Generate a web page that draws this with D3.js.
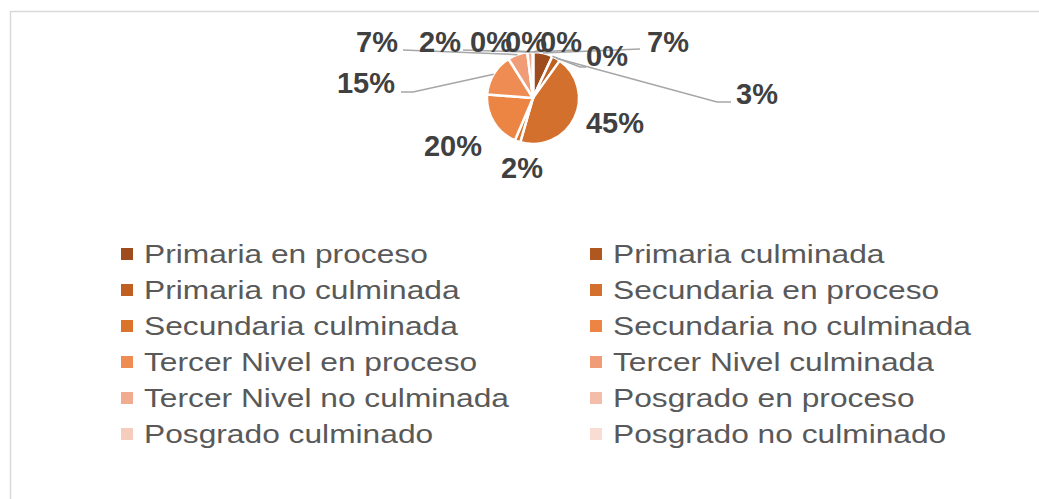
<!DOCTYPE html>
<html>
<head>
<meta charset="utf-8">
<script src="https://cdn.jsdelivr.net/npm/d3@7"></script>
<style>
  html, body { margin: 0; padding: 0; background: #fff; }
  svg { display: block; }
</style>
</head>
<body>
<svg id="chart" width="1039" height="499"></svg>
<script>
// ---- data ----
const categories = [
  "Primaria en proceso", "Primaria culminada", "Primaria no culminada",
  "Secundaria en proceso", "Secundaria culminada", "Secundaria no culminada",
  "Tercer Nivel en proceso", "Tercer Nivel culminada", "Tercer Nivel no culminada",
  "Posgrado en proceso", "Posgrado culminado", "Posgrado no culminado"
];
const values = [7, 0, 3, 45, 2, 20, 15, 7, 2, 0, 0, 0];
const valueLabels = ["7%", "0%", "3%", "45%", "2%", "20%", "15%", "7%", "2%", "0%", "0%", "0%"];
const colors = [
  "#9E4B1D", "#B0561F", "#C05F22", "#D4702D", "#DA742D", "#EC8443",
  "#EE8C54", "#EF9C77", "#F1AB91", "#F4BDAA", "#F6CCBE", "#F9DCD3"
];

// ---- layout (label positions / leader elbows, in px) ----
const cx = 533, cy = 98, R = 46;
const labelLayout = [
  { x: 668, y: 52, line: [[640, 49]] },
  { x: 607, y: 66, line: [[580, 67], [586, 67]] },
  { x: 757, y: 104, line: [[717, 102], [731, 102]] },
  { x: 615, y: 133, line: null },
  { x: 522, y: 178, line: null },
  { x: 453, y: 156, line: null },
  { x: 366, y: 93, line: [[413, 92], [401, 92]] },
  { x: 377, y: 52, line: [[403, 50]] },
  { x: 440, y: 52, line: [[463, 50]] },
  { x: 491, y: 52, line: [[505, 50]] },
  { x: 526, y: 52, line: [[540, 50]] },
  { x: 561, y: 52, line: [[575, 50]] }
];

const svg = d3.select("#chart");

// chart border (extends beyond the window on right and bottom)
svg.append("rect")
  .attr("x", 10.5).attr("y", 11.5)
  .attr("width", 1100).attr("height", 600)
  .attr("fill", "none").attr("stroke", "#D9D9D9").attr("stroke-width", 1.5);

const data = categories.map((c, i) => ({ name: c, value: values[i], label: valueLabels[i], color: colors[i], layout: labelLayout[i] }));

const pie = d3.pie().value(d => d.value).sort(null);
const arcs = pie(data);
const arc = d3.arc().innerRadius(0).outerRadius(R);

const g = svg.append("g").attr("transform", `translate(${cx},${cy})`);

g.selectAll("path.slice")
  .data(arcs)
  .join("path")
  .attr("class", "slice")
  .attr("d", arc)
  .attr("fill", d => d.data.color)
  .attr("stroke", "#fff")
  .attr("stroke-width", 2.5)
  .attr("stroke-linejoin", "round");

// leader lines
const lineGen = d3.line();
arcs.forEach(a => {
  const L = a.data.layout;
  if (!L.line) return;
  const mid = (a.startAngle + a.endAngle) / 2;
  const p0 = [cx + R * Math.sin(mid), cy - R * Math.cos(mid)];
  const pts = [p0].concat(L.line);
  svg.append("path")
    .attr("d", lineGen(pts))
    .attr("fill", "none")
    .attr("stroke", "#A6A6A6")
    .attr("stroke-width", 1.5);
});

// data labels
svg.selectAll("text.lbl")
  .data(arcs)
  .join("text")
  .attr("class", "lbl")
  .attr("x", d => d.data.layout.x)
  .attr("y", d => d.data.layout.y)
  .attr("text-anchor", "middle")
  .attr("font-family", "Liberation Sans, Arial, sans-serif")
  .attr("font-weight", "bold")
  .attr("font-size", 29)
  .attr("fill", "#404040")
  .text(d => d.data.label);

// legend
const colX = [121, 590];
const rowY0 = 254, rowStep = 36;
const leg = svg.selectAll("g.leg")
  .data(data)
  .join("g")
  .attr("class", "leg")
  .attr("transform", (d, i) => `translate(${colX[i % 2]},${rowY0 + Math.floor(i / 2) * rowStep})`);

leg.append("rect")
  .attr("x", 0).attr("y", -6)
  .attr("width", 12).attr("height", 12)
  .attr("fill", d => d.color);

leg.append("text")
  .attr("transform", "translate(23,0) scale(1.22,1)")
  .attr("x", 0).attr("y", 0)
  .attr("dy", "0.35em")
  .attr("font-family", "Liberation Sans, Arial, sans-serif")
  .attr("font-size", 26)
  .attr("fill", "#595959")
  .text(d => d.name);
</script>
</body>
</html>
